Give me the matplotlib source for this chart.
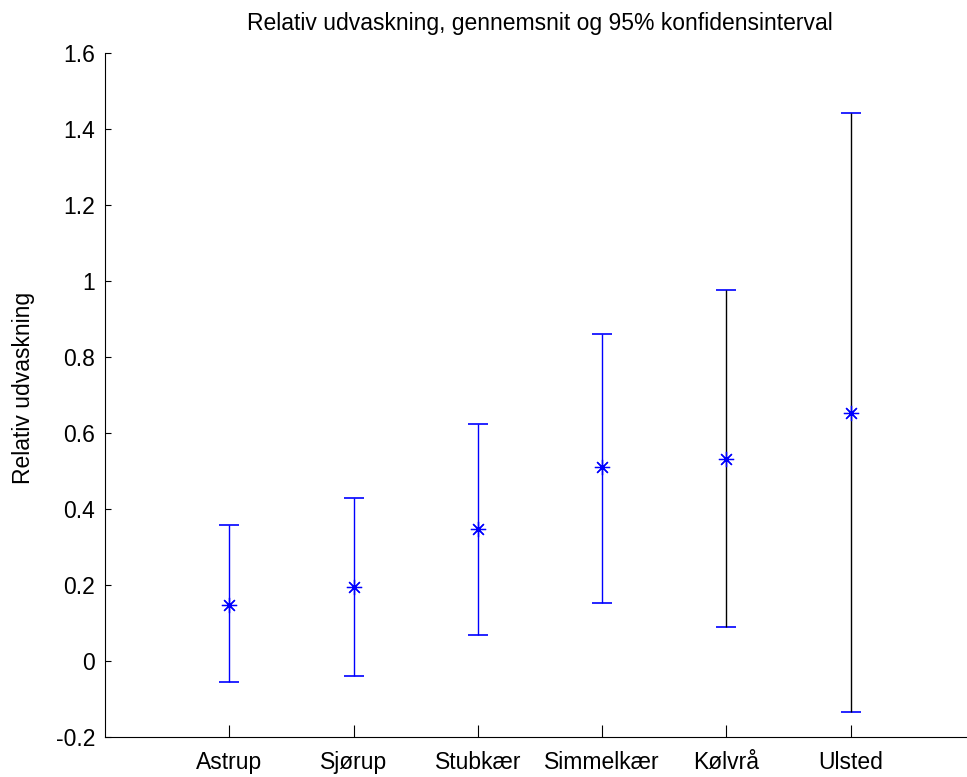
import numpy as np
import matplotlib
matplotlib.use("Agg")
import matplotlib.pyplot as plt

plt.rcParams['font.family'] = ['Liberation Sans', 'DejaVu Sans']

# sites, means and 95% confidence limits
sites = ['Astrup', 'Sjørup', 'Stubkær', 'Simmelkær', 'Kølvrå', 'Ulsted']
means = [0.147, 0.195, 0.347, 0.510, 0.532, 0.652]
lower = [-0.055, -0.040, 0.068, 0.153, 0.090, -0.135]
upper = [0.357, 0.430, 0.625, 0.862, 0.977, 1.443]
stem_colors = ['blue', 'blue', 'blue', 'blue', 'black', 'black']

W, H = 967, 777
fig = plt.figure(figsize=(W / 100, H / 100), dpi=100)
ax = fig.add_axes([105 / W, (H - 736.7) / H, 870 / W, 683.2 / H])

x = np.arange(1, len(sites) + 1)
m = np.array(means)
for xi, mi, lo, hi, c in zip(x, m, lower, upper, stem_colors):
    # blue caps everywhere, stem colour per site
    ax.errorbar([xi], [mi], yerr=[[mi - lo], [hi - mi]], fmt='none',
                ecolor='blue', elinewidth=0, capsize=7, capthick=1.2)
    ax.vlines(xi, lo, hi, color=c, linewidth=1)
    ax.plot([xi], [mi], linestyle='none', marker=(8, 2, 0), markersize=11,
            color='blue', markeredgewidth=0.9, zorder=5)

ax.set_xlim(0, 7)
ax.set_ylim(-0.2, 1.6)
ax.set_xticks(x)
ax.set_xticklabels(sites)
ax.set_yticks(np.arange(-0.2, 1.61, 0.2))
ax.set_yticklabels(['-0.2', '0', '0.2', '0.4', '0.6', '0.8', '1', '1.2', '1.4', '1.6'])

ax.spines['top'].set_visible(False)
ax.spines['right'].set_visible(False)
ax.tick_params(axis='x', direction='in', length=9, labelsize=16.5, pad=10)
ax.tick_params(axis='y', direction='in', length=4, labelsize=16.5, pad=7)

ax.set_title('Relativ udvaskning, gennemsnit og 95% konfidensinterval',
             fontsize=16.5, pad=17)
ax.set_ylabel('Relativ udvaskning', fontsize=16.5, va='center')
ax.yaxis.set_label_coords((24 - 105) / 870, 0.51)

fig.savefig('out.png', dpi=100)
